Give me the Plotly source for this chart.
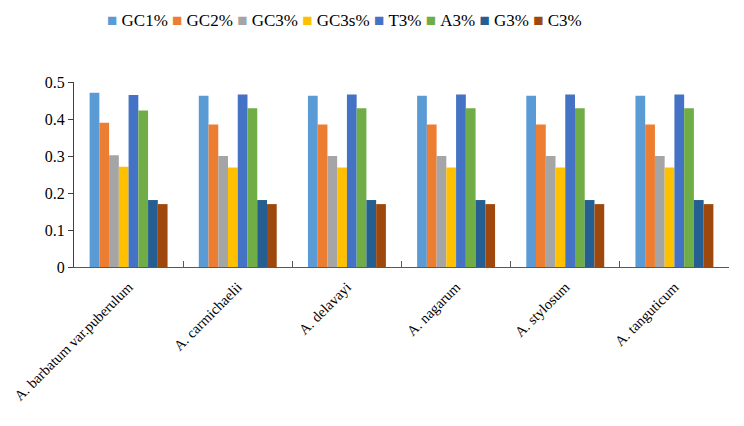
import plotly.graph_objects as go

categories = ["A. barbatum var.puberulum", "A. carmichaelii", "A. delavayi",
              "A. nagarum", "A. stylosum", "A. tanguticum"]
series_names = ["GC1%", "GC2%", "GC3%", "GC3s%", "T3%", "A3%", "G3%", "C3%"]
GC1 = [0.471, 0.463, 0.463, 0.463, 0.463, 0.463]
GC2 = [0.390, 0.385, 0.385, 0.385, 0.385, 0.385]
GC3 = [0.302, 0.300, 0.300, 0.300, 0.300, 0.300]
GC3s = [0.271, 0.269, 0.269, 0.269, 0.269, 0.269]
T3 = [0.465, 0.466, 0.466, 0.466, 0.466, 0.466]
A3 = [0.423, 0.429, 0.429, 0.429, 0.429, 0.429]
G3 = [0.181, 0.181, 0.181, 0.181, 0.181, 0.181]
C3 = [0.170, 0.170, 0.170, 0.170, 0.170, 0.170]
values = [GC1, GC2, GC3, GC3s, T3, A3, G3, C3]
colors = ["#5B9BD5", "#ED7D31", "#A5A5A5", "#FFC000", "#4472C4", "#70AD47", "#255E91", "#9E480E"]

fig = go.Figure()
for name, vals, c in zip(series_names, values, colors):
    fig.add_trace(go.Bar(name=name, x=categories, y=vals, marker_color=c,
                         marker_line_width=0, showlegend=False))

font = "Liberation Serif"

# compact legend row (as in the reference) built from the series names/colours
legend_text = "\u00a0".join(
    f'<span style="color:{c}">\u25a0</span>\u00a0{n}' for n, c in zip(series_names, colors)
)
fig.add_annotation(text=legend_text, xref="paper", yref="paper", x=0.413, y=1.33,
                   xanchor="center", yanchor="middle", showarrow=False,
                   font=dict(family=font, size=17, color="black"))

# the page body adds an 8px offset, so margins are shifted to compensate
fig.update_layout(
    width=744, height=426,
    margin=dict(l=66, r=23, t=74, b=167),
    plot_bgcolor="white", paper_bgcolor="white",
    barmode="group", bargap=0.286, bargroupgap=0,
    font=dict(family=font, size=16, color="black"),
    showlegend=False,
    xaxis=dict(showline=True, linecolor="#595959", linewidth=1, automargin=False,
               ticks="inside", tickson="boundaries", ticklen=6, tickcolor="#595959",
               tickangle=-45, tickfont=dict(size=14.5), showgrid=False,
               ticklabelstandoff=5),
    yaxis=dict(range=[0, 0.5], dtick=0.1, showline=True, linecolor="#404040", linewidth=1,
               automargin=False, ticks="outside", ticklen=5, tickcolor="#404040",
               showgrid=False, zeroline=False, tickfont=dict(size=16), tickformat=".1~f"),
)
fig.write_html("out.html")
